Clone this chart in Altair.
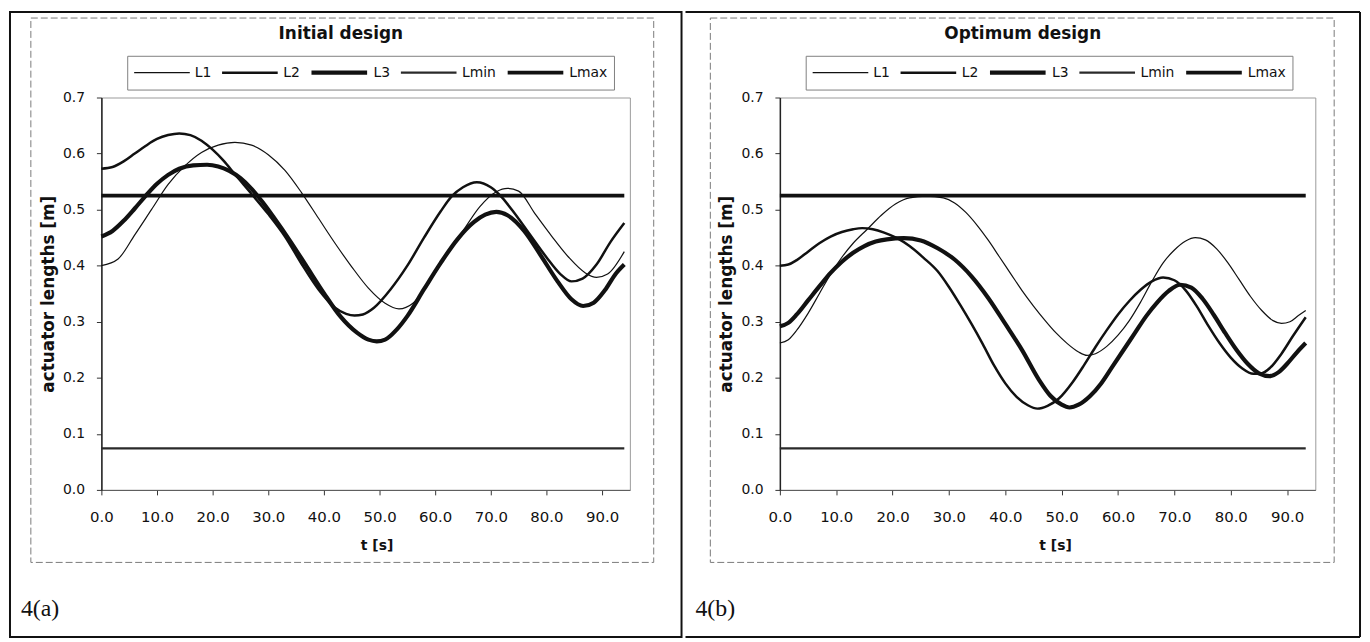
import altair as alt
import pandas as pd

# ---------------- data ----------------
SERIES = ["L1", "L2", "L3", "Lmin", "Lmax"]
WIDTHS = [1.2, 2.5, 4.2, 2.4, 3.8]
COLORS = ["#111111", "#111111", "#111111", "#2a2a2a", "#111111"]

X_TICKS = [0, 10, 20, 30, 40, 50, 60, 70, 80, 90]
Y_TICKS = [0.0, 0.1, 0.2, 0.3, 0.4, 0.5, 0.6, 0.7]

LMIN = 0.074
LMAX = 0.525

# ---- 4(a) Initial design ----
A_L1_t = [0, 3, 6, 9, 12, 15, 18, 21, 24, 27, 30, 33, 36, 39, 42, 45, 48, 51, 53.5,
          56, 59, 62, 65, 68, 71, 73, 75, 78, 81, 84, 87, 89, 91, 94]
A_L1_v = [0.400, 0.412, 0.455, 0.500, 0.545, 0.578, 0.602, 0.615, 0.620, 0.615, 0.598,
          0.570, 0.530, 0.485, 0.440, 0.398, 0.360, 0.333, 0.323, 0.333, 0.372, 0.418,
          0.462, 0.505, 0.532, 0.538, 0.533, 0.492, 0.452, 0.415, 0.387, 0.379, 0.385, 0.425]

A_L2_t = [0, 2, 4, 6, 8, 10, 12, 14, 16, 18, 20, 22, 24, 27, 30, 33, 36, 39, 42, 44,
          45.5, 47, 49, 52, 55, 58, 61, 63, 65, 67.5, 70, 72, 74, 77, 80, 82.5, 84.5,
          86.5, 89, 91.5, 94]
A_L2_v = [0.573, 0.576, 0.586, 0.600, 0.614, 0.626, 0.633, 0.636, 0.633, 0.623, 0.607,
          0.587, 0.563, 0.528, 0.492, 0.452, 0.403, 0.358, 0.325, 0.314, 0.311, 0.313,
          0.325, 0.358, 0.400, 0.450, 0.497, 0.524, 0.540, 0.549, 0.540, 0.522, 0.497,
          0.456, 0.415, 0.385, 0.372, 0.377, 0.402, 0.442, 0.476]

A_L3_t = [0, 2, 4, 6, 8, 10, 12, 14, 16.5, 19, 21, 23, 25, 27, 29, 31, 34, 37, 40, 43,
          46, 48, 49.5, 51, 53, 55, 58, 61, 64, 67, 69, 71, 73, 76, 79, 82, 84.5, 86.6,
          88.5, 90.5, 92.5, 94]
A_L3_v = [0.452, 0.462, 0.480, 0.502, 0.525, 0.546, 0.562, 0.573, 0.579, 0.580, 0.577,
          0.569, 0.556, 0.537, 0.513, 0.486, 0.443, 0.397, 0.351, 0.309, 0.280, 0.268,
          0.265, 0.268, 0.285, 0.310, 0.358, 0.405, 0.447, 0.478, 0.491, 0.496, 0.490,
          0.462, 0.418, 0.372, 0.340, 0.328, 0.334, 0.356, 0.386, 0.402]

A_LIM_t = [0, 94]

# ---- 4(b) Optimum design ----
B_L1_t = [0, 1.5, 3, 5, 7, 9, 11, 13, 15.5, 18, 20.5, 23, 26, 29, 31, 33, 35, 37, 39,
          41, 43, 45, 47, 49, 51, 53, 54.5, 56, 58, 60, 62, 64, 66, 68, 70, 72, 73.7,
          75.5, 77.5, 79.5, 81.5, 83.5, 85.5, 87.5, 89, 90.5, 92, 93.3]
B_L1_v = [0.262, 0.268, 0.285, 0.315, 0.350, 0.385, 0.415, 0.440, 0.465, 0.490, 0.510,
          0.521, 0.524, 0.521, 0.512, 0.495, 0.472, 0.445, 0.415, 0.385, 0.355, 0.328,
          0.303, 0.280, 0.261, 0.246, 0.240, 0.243, 0.256, 0.276, 0.302, 0.335, 0.372,
          0.405, 0.428, 0.444, 0.450, 0.446, 0.430, 0.405, 0.375, 0.345, 0.320, 0.302,
          0.297, 0.300, 0.311, 0.320]

B_L2_t = [0, 1.5, 3, 5, 7, 9, 11, 13, 14.6, 16.5, 18.5, 20.8, 23, 25.5, 28, 30, 32, 34,
          36, 38, 40, 42, 44, 45.7, 47.5, 49.5, 52, 54, 56, 58, 60, 62, 64, 66, 68, 70,
          72, 74, 76, 78, 80, 82, 84, 85.5, 87, 89, 91, 93.3]
B_L2_v = [0.400, 0.402, 0.410, 0.425, 0.440, 0.452, 0.460, 0.465, 0.467, 0.465, 0.459,
          0.449, 0.435, 0.414, 0.390, 0.362, 0.330, 0.296, 0.260, 0.222, 0.190, 0.166,
          0.151, 0.145, 0.150, 0.163, 0.193, 0.223, 0.255, 0.285, 0.313, 0.337, 0.357,
          0.372, 0.379, 0.374, 0.356, 0.327, 0.293, 0.262, 0.236, 0.217, 0.207, 0.208,
          0.218, 0.243, 0.274, 0.308]

B_L3_t = [0, 1.5, 3, 5, 7, 9, 11, 13, 15, 17, 19, 22, 25, 28, 31, 34, 37, 40, 43, 46,
          48, 50, 51.4, 53, 55, 57, 59, 61, 63, 65, 67, 69, 71, 73, 75, 77, 79, 81, 83,
          85, 86.9, 88.5, 90, 91.7, 93.3]
B_L3_v = [0.292, 0.298, 0.313, 0.338, 0.363, 0.387, 0.407, 0.423, 0.435, 0.443, 0.447,
          0.449, 0.445, 0.431, 0.411, 0.381, 0.342, 0.296, 0.249, 0.196, 0.168, 0.152,
          0.147, 0.152, 0.167, 0.190, 0.220, 0.250, 0.280, 0.310, 0.335, 0.355, 0.366,
          0.361, 0.341, 0.312, 0.280, 0.250, 0.225, 0.208, 0.203, 0.210, 0.225, 0.245,
          0.262]

B_LIM_t = [0, 93.3]


def long_df(l1, l2, l3, lim_t):
    rows = []
    for name, (ts, vs) in zip(["L1", "L2", "L3"], [l1, l2, l3]):
        rows += [{"t": t, "value": v, "series": name} for t, v in zip(ts, vs)]
    rows += [{"t": t, "value": LMIN, "series": "Lmin"} for t in lim_t]
    rows += [{"t": t, "value": LMAX, "series": "Lmax"} for t in lim_t]
    return pd.DataFrame(rows)


df_a = long_df((A_L1_t, A_L1_v), (A_L2_t, A_L2_v), (A_L3_t, A_L3_v), A_LIM_t)
df_b = long_df((B_L1_t, B_L1_v), (B_L2_t, B_L2_v), (B_L3_t, B_L3_v), B_LIM_t)

ONE = pd.DataFrame({"k": [0]})
PLOT_H = 395


def panel(df, title, tag, plot_w, outer_left, frame_l, frame_r, tag_x, first):
    leg = alt.Legend(
        title=None, orient="none", legendX=26, legendY=-42, direction="horizontal",
        symbolType="stroke", symbolSize=3136, labelFont="DejaVu Sans",
        labelFontSize=14, labelColor="#111111", labelOffset=4, columnPadding=9,
        padding=6, strokeColor="#808080", fillColor="white", clipHeight=22,
    )
    lines = alt.Chart(df).mark_line(interpolate="monotone", strokeJoin="round").encode(
        x=alt.X("t:Q", scale=alt.Scale(domain=[0, 95], nice=False, zero=False),
                axis=alt.Axis(values=X_TICKS, format=".1f", title="t [s]", titleX=277,
                              labelFlush=False, labelOverlap=False)),
        y=alt.Y("value:Q", scale=alt.Scale(domain=[0, 0.7], nice=False),
                axis=alt.Axis(values=Y_TICKS, format=".1f", title="actuator lengths [m]",
                              labelOverlap=False)),
        strokeWidth=alt.StrokeWidth(
            "series:N", scale=alt.Scale(type="ordinal", domain=SERIES, range=WIDTHS),
            legend=leg),
        color=alt.Color("series:N", scale=alt.Scale(domain=SERIES, range=COLORS), legend=leg),
    )
    frame = alt.Chart(ONE).mark_rect(filled=False, stroke="#7a7a7a", strokeWidth=1,
                                     strokeDash=[7, 3]).encode(
        x=alt.value(frame_l), x2=alt.value(frame_r), y=alt.value(-80), y2=alt.value(468))
    label = alt.Chart(pd.DataFrame({"label": [tag]})).mark_text(
        font="Liberation Serif", fontSize=24, align="left", baseline="alphabetic",
        color="#111111").encode(x=alt.value(tag_x), y=alt.value(522), text="label:N")
    if first:
        outer = [alt.Chart(ONE).mark_rect(filled=False, stroke="#111111", strokeWidth=2).encode(
            x=alt.value(outer_left), x2=alt.value(584), y=alt.value(-86), y2=alt.value(543))]
    else:
        outer = [
            alt.Chart(ONE).mark_rule(stroke="#111111", strokeWidth=2).encode(
                x=alt.value(outer_left), x2=alt.value(584), y=alt.value(-86)),
            alt.Chart(ONE).mark_rule(stroke="#111111", strokeWidth=2).encode(
                x=alt.value(outer_left), x2=alt.value(584), y=alt.value(543)),
            alt.Chart(ONE).mark_rule(stroke="#111111", strokeWidth=2).encode(
                x=alt.value(584), y=alt.value(-86), y2=alt.value(543)),
        ]
    return alt.layer(*outer, frame, label, lines).properties(
        width=plot_w, height=PLOT_H,
        title=alt.TitleParams(text=title, anchor="middle", frame="group", offset=-32, dx=-25),
    )


pa = panel(df_a, "Initial design", "4(a)", 532, -92, -71, 556, -81, True)
pb = panel(df_b, "Optimum design", "4(b)", 539, -95, -70, 558, -85, False)

chart = alt.hconcat(pa, pb, spacing=0).resolve_scale(
    x="independent", y="independent", color="independent", strokeWidth="independent"
).resolve_legend(color="independent", strokeWidth="independent").properties(
    padding=0, background="white"
).configure_axis(
    labelFont="DejaVu Sans", labelColor="#111111", titleFont="DejaVu Sans",
    titleColor="#111111", titleFontWeight="bold", grid=False, tickColor="#333333",
    tickSize=5, domainColor="#222222",
).configure_axisX(
    labelFontSize=15, labelPadding=15, titleFontSize=14, titlePadding=14, domainColor="#555555",
).configure_axisY(
    labelFontSize=14, labelPadding=12, titleFontSize=17, titlePadding=5, domainWidth=1.5,
).configure_view(
    stroke="#9a9a9a", strokeWidth=1,
).configure_title(
    font="DejaVu Sans", fontSize=17, fontWeight="bold", color="#111111",
)

chart.save("out.html", embed_options={"renderer": "svg", "actions": False})
